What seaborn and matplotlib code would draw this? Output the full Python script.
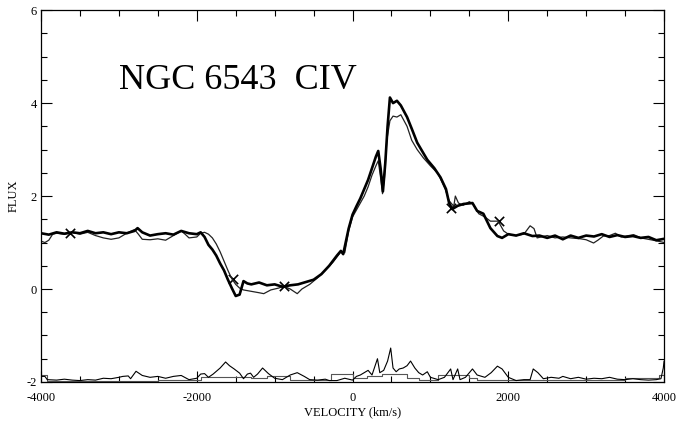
import numpy as np
import pandas as pd
import matplotlib
matplotlib.use("Agg")
import matplotlib.pyplot as plt
import seaborn as sns
from matplotlib.ticker import MultipleLocator

# ---- data ----
thick_v = [-4000, -3900, -3800, -3700, -3600, -3500, -3400, -3300, -3200, -3100, -3000, -2900,
           -2800, -2760, -2700, -2600, -2500, -2400, -2300, -2200, -2100, -2000, -1950, -1900,
           -1850, -1800, -1750, -1700, -1650, -1600, -1550, -1500, -1450, -1400, -1350, -1300,
           -1200, -1100, -1000, -900, -800, -700, -600, -500, -400, -300, -200, -150, -120,
           -50, 0, 50, 100, 150, 200, 250, 300, 330, 360, 390, 420, 450, 480, 520, 570, 620,
           700, 760, 830, 900, 960, 1050, 1130, 1200, 1240, 1280, 1350, 1425, 1540, 1600,
           1680, 1770, 1860, 1920, 2000, 2100, 2200, 2310, 2400, 2500, 2600, 2700, 2800,
           2900, 3000, 3100, 3200, 3300, 3400, 3500, 3600, 3700, 3800, 3900, 4000]
thick_f = [1.20, 1.17, 1.22, 1.19, 1.22, 1.20, 1.25, 1.20, 1.22, 1.18, 1.22, 1.20,
           1.25, 1.31, 1.22, 1.15, 1.18, 1.20, 1.17, 1.25, 1.20, 1.18, 1.22, 1.12,
           0.95, 0.85, 0.72, 0.55, 0.40, 0.20, 0.02, -0.15, -0.12, 0.17, 0.12, 0.10,
           0.14, 0.08, 0.10, 0.05, 0.08, 0.10, 0.15, 0.20, 0.32, 0.50, 0.72, 0.82, 0.75,
           1.30, 1.60, 1.78, 1.95, 2.15, 2.35, 2.60, 2.85, 2.97, 2.60, 2.10, 2.70, 3.50,
           4.12, 4.00, 4.05, 3.95, 3.70, 3.45, 3.15, 2.95, 2.78, 2.60, 2.40, 2.15, 1.85,
           1.72, 1.79, 1.83, 1.85, 1.68, 1.62, 1.31, 1.14, 1.10, 1.18, 1.15, 1.20, 1.14,
           1.15, 1.10, 1.15, 1.07, 1.15, 1.10, 1.15, 1.13, 1.18, 1.12, 1.16, 1.12, 1.14,
           1.10, 1.12, 1.05, 1.08]

thin_v = [-4000, -3950, -3900, -3850, -3800, -3700, -3600, -3500, -3400, -3300, -3200, -3100,
          -3000, -2900, -2800, -2750, -2700, -2600, -2500, -2400, -2300, -2200, -2150, -2100,
          -2000, -1950, -1900, -1850, -1800, -1750, -1700, -1650, -1600, -1550, -1500, -1450,
          -1400, -1300, -1200, -1140, -1050, -950, -885, -800, -710, -650, -550, -450, -350,
          -250, -150, -100, -50, 0, 50, 100, 150, 200, 250, 300, 330, 360, 385, 410, 440,
          480, 520, 570, 620, 700, 760, 830, 910, 1000, 1100, 1190, 1240, 1300, 1320, 1360,
          1420, 1500, 1550, 1620, 1700, 1770, 1870, 1940, 2000, 2100, 2200, 2280, 2330,
          2370, 2500, 2600, 2700, 2800, 2930, 3000, 3095, 3150, 3220, 3300, 3375, 3450,
          3610, 3700, 3860, 3950, 4000]
thin_f = [1.03, 1.00, 1.05, 1.18, 1.20, 1.18, 1.22, 1.18, 1.22, 1.15, 1.10, 1.07,
          1.10, 1.20, 1.28, 1.18, 1.07, 1.06, 1.08, 1.05, 1.15, 1.25, 1.18, 1.10,
          1.12, 1.20, 1.22, 1.18, 1.10, 0.97, 0.80, 0.60, 0.40, 0.22, 0.10, 0.02,
          -0.02, -0.05, -0.08, -0.10, -0.02, 0.02, 0.06, 0.00, -0.10, 0.00, 0.10, 0.24, 0.40,
          0.58, 0.80, 0.78, 1.25, 1.55, 1.70, 1.85, 2.00, 2.20, 2.45, 2.65, 2.76, 2.40,
          2.05, 2.40, 3.20, 3.62, 3.72, 3.70, 3.75, 3.50, 3.20, 3.00, 2.82, 2.65, 2.48,
          2.15, 1.90, 1.78, 2.00, 1.85, 1.80, 1.88, 1.82, 1.62, 1.55, 1.46, 1.46, 1.25,
          1.18, 1.15, 1.18, 1.36, 1.30, 1.10, 1.15, 1.10, 1.12, 1.10, 1.08, 1.06, 0.99,
          1.05, 1.14, 1.15, 1.20, 1.12, 1.17, 1.10, 1.05, 1.02, 1.00]

mark_v = [-3630, -1540, -885, 1258, 1875]
mark_f = [1.20, 0.22, 0.06, 1.75, 1.46]

resid_v = [-4000, -3950, -3920, -3800, -3700, -3600, -3500, -3400, -3300, -3200, -3100, -3000,
           -2950, -2880, -2850, -2780, -2700, -2600, -2500, -2400, -2300, -2200, -2100, -2000,
           -1950, -1900, -1850, -1790, -1700, -1630, -1580, -1520, -1450, -1400, -1350, -1310,
           -1270, -1220, -1155, -1080, -1000, -900, -800, -710, -620, -550, -450, -350, -300,
           -200, -100, 0, 50, 100, 150, 200, 250, 300, 320, 350, 400, 450, 490, 520, 560,
           600, 650, 700, 745, 800, 850, 900, 960, 1000, 1100, 1180, 1260, 1290, 1350, 1380,
           1450, 1540, 1600, 1700, 1780, 1860, 1920, 2000, 2100, 2200, 2280, 2320, 2380,
           2450, 2550, 2650, 2700, 2800, 2900, 3000, 3100, 3200, 3300, 3400, 3500, 3600,
           3700, 3800, 3900, 3960, 3990, 4000]
resid_f = [-1.88, -1.88, -1.95, -1.96, -1.94, -1.96, -1.97, -1.95, -1.96, -1.92, -1.93, -1.90,
           -1.88, -1.87, -1.93, -1.77, -1.86, -1.90, -1.88, -1.92, -1.88, -1.86, -1.95, -1.92,
           -1.83, -1.82, -1.90, -1.83, -1.70, -1.57, -1.65, -1.72, -1.81, -1.93, -1.83, -1.81,
           -1.90, -1.83, -1.70, -1.82, -1.92, -1.95, -1.85, -1.80, -1.88, -1.95, -1.96, -1.94,
           -1.97, -1.97, -1.92, -1.96, -1.88, -1.85, -1.80, -1.75, -1.85, -1.60, -1.50, -1.80,
           -1.75, -1.55, -1.27, -1.70, -1.78, -1.72, -1.70, -1.65, -1.55, -1.70, -1.80, -1.85,
           -1.78, -1.90, -1.95, -1.90, -1.72, -1.95, -1.72, -1.95, -1.90, -1.72, -1.85, -1.90,
           -1.80, -1.66, -1.72, -1.90, -1.97, -1.95, -1.95, -1.72, -1.80, -1.93, -1.90, -1.92,
           -1.88, -1.93, -1.90, -1.94, -1.92, -1.93, -1.90, -1.94, -1.95, -1.93, -1.95, -1.96,
           -1.95, -1.93, -1.70, -1.55]

step_v = [-4000, -3920, -2500, -1950, -1300, -1100, -800, -280, 0, 180, 380, 700, 850,
          1100, 1500, 1600, 2000, 3500, 3940, 4000]
step_f = [-1.85, -1.98, -1.95, -1.90, -1.92, -1.88, -1.96, -1.83, -1.92, -1.88, -1.83,
          -1.92, -1.95, -1.85, -1.92, -1.95, -1.96, -1.92, -1.85, -1.85]

title_text = "NGC 6543  CIV"
x_label = "VELOCITY (km/s)"
y_label = "FLUX"

# ---- plotting ----
sns.set_style("ticks")
plt.rcParams["font.family"] = ["Liberation Serif", "DejaVu Serif"]
plt.rcParams["axes.unicode_minus"] = False
plt.rcParams["text.color"] = "black"
plt.rcParams["axes.labelcolor"] = "black"
plt.rcParams["xtick.color"] = "black"
plt.rcParams["ytick.color"] = "black"

fig = plt.figure(figsize=(6.79, 4.23), dpi=100)
ax = fig.add_axes([0.0604, 0.097, 0.9176, 0.879])

df_thick = pd.DataFrame({"v": thick_v, "f": thick_f})
df_thin = pd.DataFrame({"v": thin_v, "f": thin_f})
df_res = pd.DataFrame({"v": resid_v, "f": resid_f})
df_step = pd.DataFrame({"v": step_v, "f": step_f})

sns.lineplot(data=df_step, x="v", y="f", ax=ax, color="#555555", lw=0.8,
             sort=False, estimator=None, drawstyle="steps-post")
sns.lineplot(data=df_res, x="v", y="f", ax=ax, color="black", lw=0.8,
             sort=False, estimator=None)
sns.lineplot(data=df_thin, x="v", y="f", ax=ax, color="#222222", lw=0.9,
             sort=False, estimator=None)
sns.lineplot(data=df_thick, x="v", y="f", ax=ax, color="black", lw=1.9,
             sort=False, estimator=None)
sns.scatterplot(x=mark_v, y=mark_f, ax=ax, marker="x", s=45,
                color="black", linewidth=1.2)

ax.set_xlim(-4000, 4000)
ax.set_ylim(-2, 6)
ax.xaxis.set_major_locator(MultipleLocator(2000))
ax.xaxis.set_minor_locator(MultipleLocator(500))
ax.yaxis.set_major_locator(MultipleLocator(2))
ax.yaxis.set_minor_locator(MultipleLocator(0.5))
ax.tick_params(which="both", direction="in", top=True, right=True,
               labelsize=9, width=0.8, color="black", labelcolor="black")
ax.tick_params(axis="x", pad=7)
ax.tick_params(axis="y", pad=3)
ax.tick_params(which="major", length=8)
ax.tick_params(which="minor", length=4.5)
for s in ax.spines.values():
    s.set_linewidth(0.9)
    s.set_color("black")

ax.set_xlabel(x_label, fontsize=9, labelpad=2)
ax.set_ylabel(y_label, fontsize=9, labelpad=5)
ax.text(-3000, 4.3, title_text, fontsize=26, ha="left", va="baseline",
        color="black", family=["Liberation Serif", "DejaVu Serif"])

fig.savefig("out.png", dpi=100)
